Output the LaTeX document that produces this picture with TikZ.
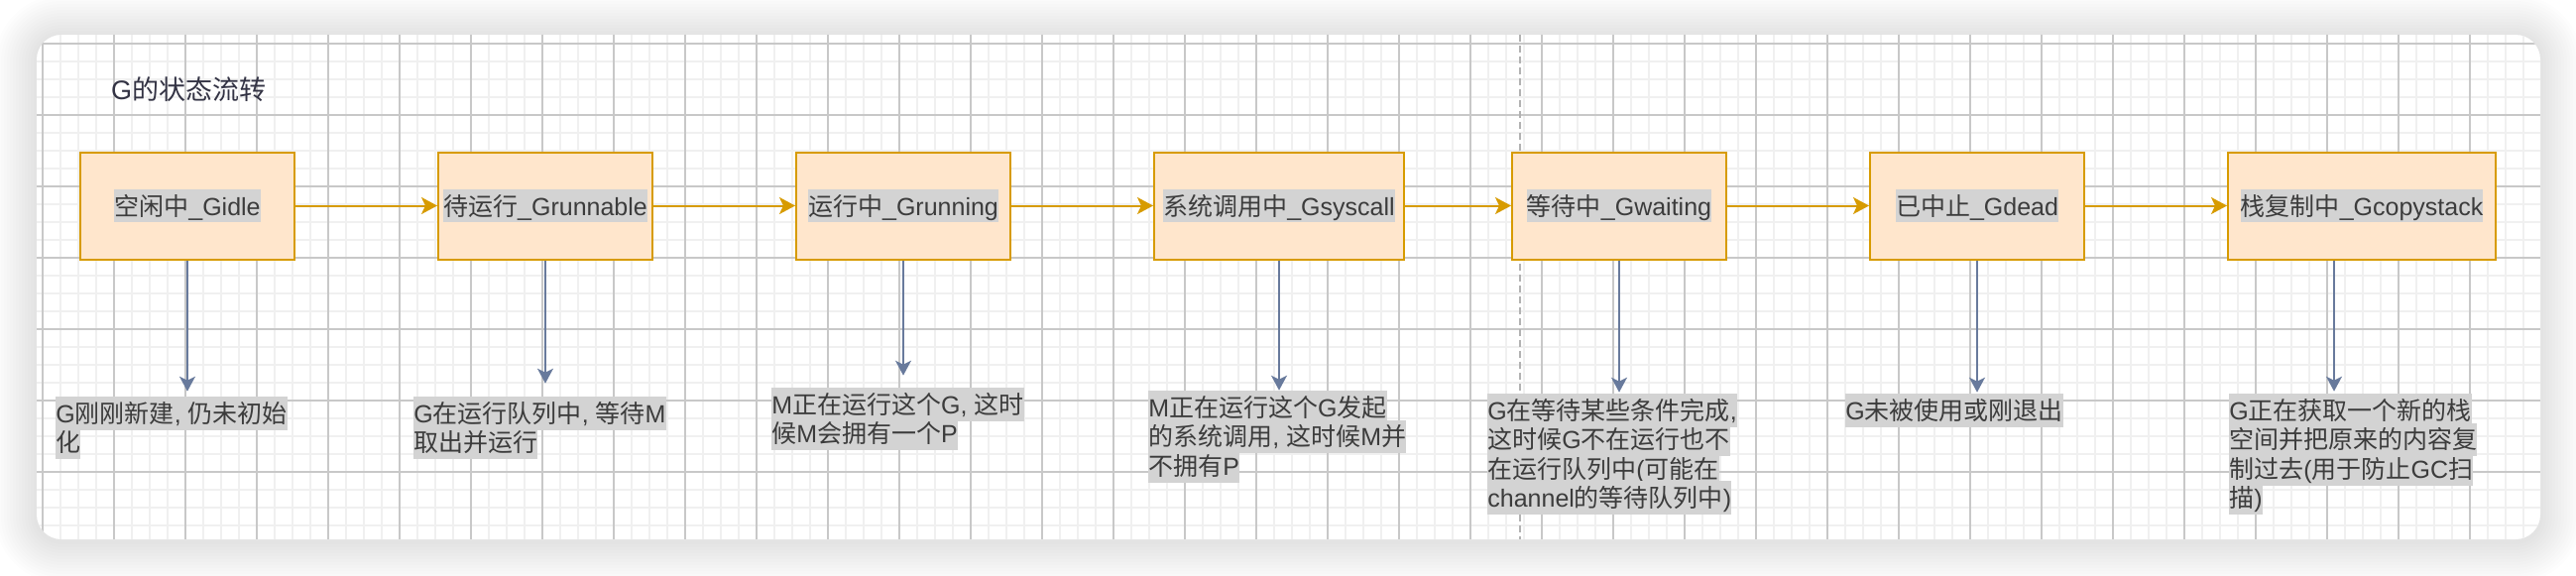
\documentclass[tikz,border=0pt]{standalone}
\usepackage{fontspec}
\setmainfont{Liberation Sans}
\newfontfamily\cjkfont{Noto Sans CJK SC}
\usetikzlibrary{arrows.meta,positioning}

\definecolor{boxfill}{RGB}{255,230,204}
\definecolor{boxline}{RGB}{215,155,0}
\definecolor{hlgray}{RGB}{211,211,211}
\definecolor{txtgray}{RGB}{60,60,60}
\definecolor{titlecol}{RGB}{51,51,68}
\definecolor{dncol}{RGB}{104,122,156}
\definecolor{gridminor}{RGB}{240,240,240}
\definecolor{gridmajor}{RGB}{200,200,200}
\definecolor{pagebrk}{RGB}{178,178,178}

% switch to the CJK font for ideographs
\XeTeXinterchartokenstate=1
\newXeTeXintercharclass\cjkclass
\count255="4E00
\loop
  \XeTeXcharclass\count255=\cjkclass
  \ifnum\count255<"9FFF \advance\count255 by 1
\repeat
\XeTeXinterchartoks 0 \cjkclass = {\cjkfont}
\XeTeXinterchartoks 4095 \cjkclass = {\cjkfont}
\XeTeXinterchartoks \cjkclass 0 = {\rmfamily}
\XeTeXinterchartoks \cjkclass 4095 = {\rmfamily}

% grey text highlight (box kept small so lines keep their baselineskip)
\newcommand{\hl}[1]{\raisebox{0pt}[11pt][1.4pt]{%
  \setlength{\fboxsep}{0pt}\colorbox{hlgray}{\rule[-3.6pt]{0pt}{16.8pt}#1}}}
\newcommand{\us}{\rmfamily\_}

\begin{document}
\begin{tikzpicture}[
  x=0.5pt, y=-0.5pt,
  state/.style={
    draw=boxline, fill=boxfill, line width=1pt, inner sep=0pt,
    minimum height=54pt, text=txtgray,
    font=\fontsize{12.5pt}{14.7pt}\selectfont},
  note/.style={
    align=left, inner sep=0pt, text=txtgray,
    font=\fontsize{12.5pt}{14.7pt}\selectfont},
  flow/.style={
    -{Stealth[length=8pt,width=8.5pt,inset=2pt]},
    draw=boxline, line width=1pt},
  down/.style={
    -{Stealth[length=7.5pt,width=8pt,inset=2pt]},
    draw=dncol, line width=1pt},
]
\useasboundingbox (0,0) rectangle (2598,580);
\fill[white] (0,0) rectangle (2598,580);

%% CARD
\foreach \s [evaluate=\s as \rr using 12.5+1.5*\s] in {1,...,14}
  \fill[black, opacity=0.008, rounded corners=\rr pt]
    (37-3*\s,37-3*\s) rectangle (2562+3*\s,546+3*\s);
\fill[white, rounded corners=12.5pt] (37,35) rectangle (2562,544);
\begin{scope}
  \clip[rounded corners=12.5pt] (37,35) rectangle (2562,544);
  \foreach \gx in {43,61,...,2561}
    \draw[gridminor, line width=1pt] (\gx,35) -- (\gx,544);
  \foreach \gy in {44,62,...,543}
    \draw[gridminor, line width=1pt] (37,\gy) -- (2562,\gy);
  \foreach \gx in {43,115,...,2561}
    \draw[gridmajor, line width=0.55pt] (\gx,35) -- (\gx,544);
  \foreach \gy in {44,116,...,543}
    \draw[gridmajor, line width=0.55pt] (37,\gy) -- (2562,\gy);
\end{scope}
\draw[pagebrk, line width=1pt, dash pattern=on 3.5pt off 2pt]
  (1533,35) -- (1533,544);

%% TITLE
\node[anchor=west, text=titlecol, font=\fontsize{13.5pt}{16pt}\selectfont]
  (title) at (105,90) {G的状态流转};

%% STATES
\node[state, minimum width=108pt] (b1) at (189,207.5)
  {\hl{空闲中\us Gidle}};
\node[state, minimum width=108pt, right=71.5pt of b1] (b2)
  {\hl{待运行\us Grunnable}};
\node[state, minimum width=108pt, right=71.5pt of b2] (b3)
  {\hl{运行中\us Grunning}};
\node[state, minimum width=126pt, right=71.5pt of b3] (b4)
  {\hl{系统调用中\us Gsyscall}};
\node[state, minimum width=108pt, right=53.5pt of b4] (b5)
  {\hl{等待中\us Gwaiting}};
\node[state, minimum width=108pt, right=71.5pt of b5] (b6)
  {\hl{已中止\us Gdead}};
\node[state, minimum width=135pt, right=71.5pt of b6] (b7)
  {\hl{栈复制中\us Gcopystack}};

%% NOTES
\node[note, below right=70.8pt and -12pt of b1.south west] (n1)
  {\hl{G刚刚新建, 仍未初始}\\\hl{化}};
\node[note, below right=70.8pt and -12pt of b2.south west] (n2)
  {\hl{G在运行队列中, 等待M}\\\hl{取出并运行}};
\node[note, below right=66.3pt and -12pt of b3.south west] (n3)
  {\hl{M正在运行这个G, 这时}\\\hl{候M会拥有一个P}};
\node[note, below right=67.8pt and -2.5pt of b4.south west] (n4)
  {\hl{M正在运行这个G发起}\\\hl{的系统调用, 这时候M并}\\\hl{不拥有P}};
\node[note, below right=69.3pt and -12pt of b5.south west] (n5)
  {\hl{G在等待某些条件完成,}\\\hl{这时候G不在运行也不}\\
   \hl{在运行队列中(可能在}\\\hl{channel的等待队列中)}};
\node[note, below right=69.3pt and -12pt of b6.south west] (n6)
  {\hl{G未被使用或刚退出}};
\node[note, below right=69.3pt and 1pt of b7.south west] (n7)
  {\hl{G正在获取一个新的栈}\\\hl{空间并把原来的内容复}\\
   \hl{制过去(用于防止GC扫}\\\hl{描)}};

%% ARROWS
\draw[flow] (b1) -- (b2);
\draw[flow] (b2) -- (b3);
\draw[flow] (b3) -- (b4);
\draw[flow] (b4) -- (b5);
\draw[flow] (b5) -- (b6);
\draw[flow] (b6) -- (b7);

\draw[down, shorten >=4.7pt] (b1.south) -- (b1.south |- n1.north);
\draw[down, shorten >=8.7pt] (b2.south) -- (b2.south |- n2.north);
\draw[down, shorten >=8.2pt] (b3.south) -- (b3.south |- n3.north);
\draw[down, shorten >=2.2pt] (b4.south) -- (b4.south |- n4.north);
\draw[down, shorten >=2.7pt] (b5.south) -- (b5.south |- n5.north);
\draw[down, shorten >=2.7pt] (b6.south) -- (b6.south |- n6.north);
\draw[down, shorten >=3.2pt]
  ([xshift=-14pt]b7.south) -- ([xshift=-14pt]b7.south |- n7.north);

\end{tikzpicture}
\end{document}
